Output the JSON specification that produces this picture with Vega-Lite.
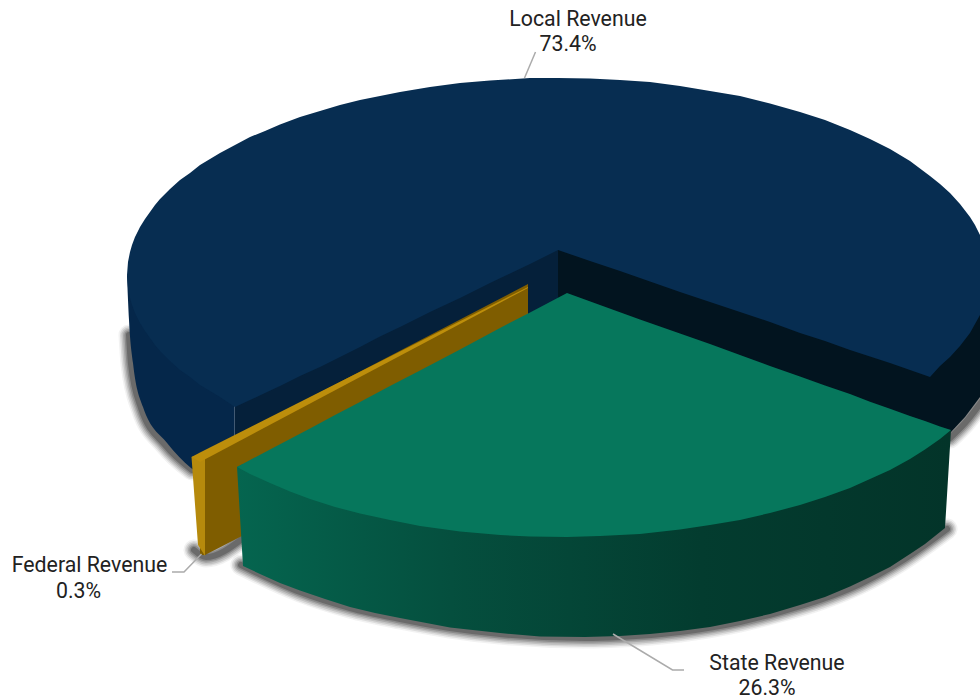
{
  "$schema": "https://vega.github.io/schema/vega-lite/v6.json",
  "autosize": "none",
  "width": 980,
  "height": 700,
  "padding": 0,
  "background": "white",
  "view": {"stroke": null},
  "config": {"axis": {"disable": true}, "legend": {"disable": true}},
  "datasets": {
    "shadow": [
      {"run":"local-left","x":129,"y":335},{"run":"local-left","x":131,"y":364},{"run":"local-left","x":141,"y":408},{"run":"local-left","x":165,"y":445},{"run":"local-left","x":192,"y":470},
      {"run":"federal","x":194,"y":550},{"run":"federal","x":206,"y":557},{"run":"federal","x":242,"y":539},
      {"run":"state","x":241,"y":565},{"run":"state","x":300,"y":592},{"run":"state","x":350,"y":608},{"run":"state","x":400,"y":619},{"run":"state","x":450,"y":628},{"run":"state","x":500,"y":634},{"run":"state","x":585,"y":638},{"run":"state","x":620,"y":637},{"run":"state","x":680,"y":632},{"run":"state","x":740,"y":622},{"run":"state","x":780,"y":612},{"run":"state","x":820,"y":600},{"run":"state","x":860,"y":584},{"run":"state","x":900,"y":562},{"run":"state","x":947,"y":529},
      {"run":"local-right","x":950,"y":438},{"run":"local-right","x":965,"y":423},{"run":"local-right","x":985,"y":397}
    ],
    "localRightFace": [
      {"x":558,"y":240,"y2":400},{"x":930,"y":368,"y2":450},{"x":951,"y":345,"y2":432},{"x":965,"y":325,"y2":417},{"x":980,"y":305,"y2":397}
    ],
    "localLeftFace": [
      {"x":234.5,"y":400,"y2":500},{"x":558,"y":244,"y2":400}
    ],
    "localWall": [
      {"x":127,"y":275,"y2":275},{"x":129,"y":278,"y2":320},{"x":133,"y":296,"y2":363},{"x":143,"y":318,"y2":407},{"x":167,"y":348,"y2":443},{"x":191,"y":368,"y2":468},{"x":215,"y":385,"y2":482},{"x":234.5,"y":395,"y2":492}
    ],
    "localTop": [
      {"x":127,"y":275,"y2":275},{"x":128,"y":262,"y2":288},{"x":130,"y":252,"y2":298},{"x":132,"y":245,"y2":305},{"x":135,"y":237,"y2":313},{"x":140,"y":227,"y2":323},{"x":145,"y":219,"y2":331},{"x":150,"y":212,"y2":338},{"x":155,"y":205,"y2":345},{"x":160,"y":199,"y2":351},{"x":170,"y":189,"y2":361},{"x":180,"y":180,"y2":370},{"x":190,"y":173,"y2":377},{"x":200,"y":165,"y2":385},{"x":210,"y":159,"y2":391},{"x":220,"y":153,"y2":397},{"x":235,"y":145,"y2":407},{"x":250,"y":137,"y2":400},{"x":265,"y":131,"y2":393},{"x":280,"y":124.5,"y2":386},{"x":300,"y":117,"y2":376},{"x":320,"y":111,"y2":367},{"x":340,"y":105,"y2":357},{"x":360,"y":100,"y2":347},{"x":380,"y":96,"y2":336.5},{"x":400,"y":92,"y2":327},{"x":430,"y":87,"y2":312},{"x":460,"y":83,"y2":298},{"x":490,"y":80.5,"y2":283},{"x":530,"y":78,"y2":264},{"x":558,"y":78,"y2":250},{"x":590,"y":78.5,"y2":261},{"x":620,"y":80,"y2":271},{"x":650,"y":82,"y2":281.4},{"x":680,"y":86,"y2":292},{"x":710,"y":91,"y2":302},{"x":740,"y":96,"y2":312},{"x":770,"y":103.5,"y2":322},{"x":800,"y":112,"y2":333},{"x":825,"y":120,"y2":341},{"x":850,"y":130,"y2":350},{"x":870,"y":139,"y2":356.5},{"x":890,"y":149,"y2":363},{"x":910,"y":161,"y2":370},{"x":930,"y":176,"y2":377},{"x":940,"y":184,"y2":366},{"x":950,"y":193,"y2":357},{"x":960,"y":204,"y2":346},{"x":970,"y":217,"y2":333},{"x":975,"y":225,"y2":324},{"x":980,"y":235,"y2":315}
    ],
    "federalSide": [
      {"x":200,"y":455,"y2":555},{"x":205,"y":452,"y2":555},{"x":240,"y":434,"y2":537},{"x":528,"y":284,"y2":400}
    ],
    "federalFront": [
      {"x":191.5,"y":457,"y2":457},{"x":198,"y":455,"y2":545},{"x":200,"y":455,"y2":548},{"x":205,"y":453,"y2":556}
    ],
    "federalRim": [
      {"x":191.5,"y":457,"y2":457},{"x":200,"y":452.6,"y2":462},{"x":528,"y":287,"y2":288}
    ],
    "stateWall": [
      {"x":237,"y":467,"y2":467},{"x":243,"y":464,"y2":566},{"x":260,"y":470,"y2":574},{"x":280,"y":479,"y2":583},{"x":300,"y":487,"y2":590.6},{"x":325,"y":500,"y2":599},{"x":350,"y":504,"y2":607},{"x":375,"y":510,"y2":613},{"x":400,"y":515,"y2":618},{"x":450,"y":523,"y2":627.5},{"x":500,"y":527,"y2":633},{"x":540,"y":529,"y2":636.5},{"x":585,"y":529,"y2":637},{"x":620,"y":527,"y2":636},{"x":650,"y":525,"y2":634},{"x":680,"y":522,"y2":631},{"x":710,"y":517,"y2":627},{"x":740,"y":512,"y2":621},{"x":770,"y":505,"y2":614},{"x":800,"y":497,"y2":605},{"x":825,"y":489,"y2":597},{"x":850,"y":480,"y2":586.6},{"x":870,"y":471,"y2":577},{"x":890,"y":462,"y2":567},{"x":910,"y":451,"y2":554},{"x":925,"y":441,"y2":544},{"x":945,"y":431,"y2":528},{"x":951,"y":430,"y2":430}
    ],
    "stateTop": [
      {"x":237,"y":467,"y2":467},{"x":250,"y":460,"y2":474},{"x":270,"y":449.5,"y2":483},{"x":290,"y":439,"y2":491.5},{"x":310,"y":428.5,"y2":499},{"x":335,"y":415,"y2":507},{"x":360,"y":402,"y2":513.5},{"x":390,"y":386,"y2":520},{"x":420,"y":370.5,"y2":526},{"x":460,"y":349.4,"y2":531.5},{"x":500,"y":328,"y2":535},{"x":530,"y":312.5,"y2":536.5},{"x":567,"y":293,"y2":537},{"x":600,"y":305,"y2":536},{"x":640,"y":319.5,"y2":534},{"x":680,"y":333.6,"y2":529.5},{"x":710,"y":344,"y2":525},{"x":740,"y":355,"y2":520},{"x":770,"y":366,"y2":513},{"x":800,"y":376.6,"y2":505},{"x":825,"y":385.6,"y2":497},{"x":850,"y":394,"y2":488},{"x":870,"y":401.7,"y2":479},{"x":890,"y":408.8,"y2":470},{"x":910,"y":416,"y2":459},{"x":925,"y":421,"y2":449.5},{"x":940,"y":426.4,"y2":439},{"x":951,"y":430,"y2":430}
    ],
    "leaders": [
      {"run":"local","x":535.5,"y":52},{"run":"local","x":524.5,"y":78},
      {"run":"federal","x":172,"y":572},{"run":"federal","x":184,"y":572},{"run":"federal","x":201.5,"y":554},
      {"run":"state","x":613,"y":634},{"run":"state","x":672.5,"y":670},{"run":"state","x":684,"y":670}
    ],
    "labels": [
      {"label":"Local Revenue","x":578,"y":20},{"label":"73.4%","x":568,"y":45},
      {"label":"Federal Revenue","x":89.5,"y":566},{"label":"0.3%","x":78.5,"y":592},
      {"label":"State Revenue","x":777,"y":664},{"label":"26.3%","x":767,"y":689}
    ]
  },
  "encoding": {
    "x": {"field": "x", "type": "quantitative", "axis": null, "scale": {"domain": [0, 980], "nice": false, "zero": false}},
    "y": {"field": "y", "type": "quantitative", "axis": null, "scale": {"domain": [0, 700], "nice": false, "zero": false, "reverse": true}}
  },
  "layer": [
    {"data": {"name": "shadow"}, "mark": {"type": "line", "clip": true, "interpolate": "monotone", "stroke": "#222222", "strokeWidth": 21, "opacity": 0.06, "strokeCap": "round", "strokeJoin": "round"}, "encoding": {"detail": {"field": "run"}}},
    {"data": {"name": "shadow"}, "mark": {"type": "line", "clip": true, "interpolate": "monotone", "stroke": "#222222", "strokeWidth": 18, "opacity": 0.1, "strokeCap": "round", "strokeJoin": "round"}, "encoding": {"detail": {"field": "run"}}},
    {"data": {"name": "shadow"}, "mark": {"type": "line", "clip": true, "interpolate": "monotone", "stroke": "#222222", "strokeWidth": 15, "opacity": 0.13, "strokeCap": "round", "strokeJoin": "round"}, "encoding": {"detail": {"field": "run"}}},
    {"data": {"name": "shadow"}, "mark": {"type": "line", "clip": true, "interpolate": "monotone", "stroke": "#222222", "strokeWidth": 12, "opacity": 0.17, "strokeCap": "round", "strokeJoin": "round"}, "encoding": {"detail": {"field": "run"}}},
    {"data": {"name": "shadow"}, "mark": {"type": "line", "clip": true, "interpolate": "monotone", "stroke": "#222222", "strokeWidth": 9, "opacity": 0.22, "strokeCap": "round", "strokeJoin": "round"}, "encoding": {"detail": {"field": "run"}}},
    {"data": {"name": "shadow"}, "mark": {"type": "line", "clip": true, "interpolate": "monotone", "stroke": "#222222", "strokeWidth": 6, "opacity": 0.3, "strokeCap": "round", "strokeJoin": "round"}, "encoding": {"detail": {"field": "run"}}},
    {"data": {"name": "localRightFace"}, "mark": {"type": "area", "orient": "vertical", "color": "#02141f"}, "encoding": {"y2": {"field": "y2"}}},
    {"data": {"name": "localLeftFace"}, "mark": {"type": "area", "orient": "vertical", "color": "#05203a"}, "encoding": {"y2": {"field": "y2"}}},
    {"data": {"name": "localWall"}, "mark": {"type": "area", "orient": "vertical", "interpolate": "monotone", "color": "#05274a"}, "encoding": {"y2": {"field": "y2"}}},
    {"data": {"name": "localTop"}, "mark": {"type": "area", "orient": "vertical", "color": "#072d51"}, "encoding": {"y2": {"field": "y2"}}},
    {"data": {"name": "federalSide"}, "mark": {"type": "area", "orient": "vertical", "color": "#7f5d00"}, "encoding": {"y2": {"field": "y2"}}},
    {"data": {"name": "federalFront"}, "mark": {"type": "area", "orient": "vertical", "color": "#b68a0c"}, "encoding": {"y2": {"field": "y2"}}},
    {"data": {"name": "federalRim"}, "mark": {"type": "area", "orient": "vertical", "color": "#bd8e0b"}, "encoding": {"y2": {"field": "y2"}}},
    {
      "data": {"name": "stateWall"},
      "mark": {
        "type": "area",
        "orient": "vertical",
        "color": {
          "gradient": "linear", "x1": 0, "y1": 0, "x2": 1, "y2": 0,
          "stops": [
            {"offset": 0, "color": "#05654f"},
            {"offset": 0.3, "color": "#054f3e"},
            {"offset": 0.65, "color": "#033c2f"},
            {"offset": 1, "color": "#033429"}
          ]
        }
      },
      "encoding": {"y2": {"field": "y2"}}
    },
    {"data": {"name": "stateTop"}, "mark": {"type": "area", "orient": "vertical", "color": "#06775c"}, "encoding": {"y2": {"field": "y2"}}},
    {"data": {"name": "leaders"}, "mark": {"type": "line", "stroke": "#ababab", "strokeWidth": 1.5}, "encoding": {"detail": {"field": "run"}, "order": {"field": "x"}}},
    {"data": {"name": "labels"}, "mark": {"type": "text", "font": "Roboto", "fontSize": 21.3, "color": "#222222", "align": "center", "baseline": "middle"}, "encoding": {"text": {"field": "label"}}}
  ]
}
